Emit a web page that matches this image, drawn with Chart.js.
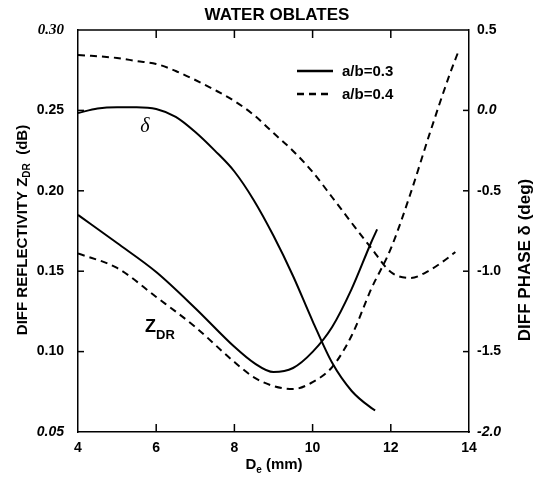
<!DOCTYPE html>
<html>
<head>
<meta charset="utf-8">
<script src="https://cdn.jsdelivr.net/npm/chart.js@4/dist/chart.umd.min.js"></script>
<style>
  html, body { margin: 0; padding: 0; background: #fff; }
  #wrap { width: 533px; height: 477px; }
</style>
</head>
<body>
<div id="wrap"><canvas id="chart" width="533" height="477"></canvas></div>
<script>
// drop sizes (mm) and values
const dZdr03 = [4, 5, 6, 7, 8, 8.5, 9, 9.5, 10, 10.5, 11, 11.5, 11.65]
const zdr03 = [0.185, 0.1675, 0.1495, 0.127, 0.103, 0.093, 0.0873, 0.0898, 0.0998, 0.1153, 0.139, 0.168, 0.176]

const dZdr04 = [4, 5, 6, 7, 8, 8.5, 9, 9.5, 10, 10.5, 11, 11.5, 12, 12.5, 13, 13.5, 13.75]
const zdr04 = [0.161, 0.152, 0.134, 0.1153, 0.0935, 0.084, 0.0786, 0.0767, 0.081, 0.0904, 0.110, 0.139, 0.164, 0.198, 0.236, 0.272, 0.288]

const dDelta03 = [4, 4.5, 5, 5.5, 6, 6.5, 7, 7.5, 8, 8.5, 9, 9.5, 10, 10.5, 11, 11.5, 11.6]
const delta03 = [-0.016, 0.012, 0.02, 0.02, 0.009, -0.04, -0.134, -0.25, -0.38, -0.56, -0.78, -1.03, -1.31, -1.57, -1.745, -1.85, -1.865]

const dDelta04 = [4, 5, 5.5, 6, 6.5, 7, 7.5, 8, 8.5, 9, 9.5, 10, 10.5, 11, 11.5, 12, 12.5, 13, 13.5, 13.65]
const delta04 = [0.345, 0.326, 0.307, 0.289, 0.245, 0.189, 0.127, 0.058, -0.029, -0.141, -0.252, -0.383, -0.54, -0.70, -0.856, -1.005, -1.042, -0.993, -0.91, -0.88]

const xTicks = [4, 6, 8, 10, 12, 14]
const zdrTicks = [0.05, 0.10, 0.15, 0.20, 0.25, 0.30]
const phaseTicks = [-2.0, -1.5, -1.0, -0.5, 0.0, 0.5]

const seriesNames = ['a/b=0.3', 'a/b=0.4']

const FONT = '"Liberation Sans", Arial, Helvetica, sans-serif'
const DASH = [7, 5]

const pts = (xs, ys) => xs.map((x, i) => ({ x: x, y: ys[i] }))

const lineStyle = (dashed) => ({
  borderColor: '#000',
  borderWidth: 2,
  borderDash: dashed ? DASH : [],
  pointRadius: 0,
  fill: false,
  cubicInterpolationMode: 'monotone'
})

// draws text made of pieces, some as subscripts
function drawRich(ctx, parts, x, y, rotate) {
  ctx.save()
  ctx.translate(x, y)
  if (rotate) ctx.rotate(-Math.PI / 2)
  let w = 0
  parts.forEach(p => {
    ctx.font = 'bold ' + p.size + 'px ' + FONT
    w += ctx.measureText(p.t).width
  })
  let cx = -w / 2
  ctx.textBaseline = 'middle'
  ctx.textAlign = 'left'
  parts.forEach(p => {
    ctx.font = 'bold ' + p.size + 'px ' + FONT
    ctx.fillText(p.t, cx, p.dy || 0)
    cx += ctx.measureText(p.t).width
  })
  ctx.restore()
}

const decor = {
  id: 'decor',
  afterDraw(chart) {
    const { ctx, chartArea: a, scales } = chart
    ctx.save()
    ctx.strokeStyle = '#000'
    ctx.fillStyle = '#000'
    ctx.lineWidth = 1.5
    const seg = (x1, y1, x2, y2) => { ctx.beginPath(); ctx.moveTo(x1, y1); ctx.lineTo(x2, y2); ctx.stroke() }

    // top frame line
    seg(a.left, a.top, a.right, a.top)

    // inward tick marks
    xTicks.slice(1, -1).forEach(v => {
      const px = scales.x.getPixelForValue(v)
      seg(px, a.bottom, px, a.bottom - 8)
      seg(px, a.top, px, a.top + 8)
    })
    zdrTicks.slice(1, -1).forEach(v => {
      const py = scales.y.getPixelForValue(v)
      seg(a.left, py, a.left + 6, py)
    })
    phaseTicks.slice(1, -1).forEach(v => {
      const py = scales.y2.getPixelForValue(v)
      seg(a.right, py, a.right - 6, py)
    })

    // title
    ctx.font = 'bold 17px ' + FONT
    ctx.textAlign = 'center'
    ctx.textBaseline = 'middle'
    ctx.fillText('WATER OBLATES', 277, 15)

    // axis titles
    drawRich(ctx, [{ t: 'DIFF REFLECTIVITY Z', size: 15 }, { t: 'DR', size: 10, dy: 4 }, { t: '  (dB)', size: 15 }], 23, 230, true)
    drawRich(ctx, [{ t: 'DIFF PHASE \u03b4 (deg)', size: 17 }], 525, 260, true)
    drawRich(ctx, [{ t: 'D', size: 15 }, { t: 'e', size: 10, dy: 5 }, { t: ' (mm)', size: 15 }], 274, 465, false)

    // curve labels
    ctx.font = 'italic 20px "Liberation Serif", "Times New Roman", serif'
    ctx.textAlign = 'center'
    ctx.fillText('\u03b4', 145, 127)
    drawRich(ctx, [{ t: 'Z', size: 18 }, { t: 'DR', size: 13, dy: 8 }], 160, 327, false)

    // legend
    const ds = chart.data.datasets
    seriesNames.forEach((name, i) => {
      const y = 71 + i * 23
      const style = ds.find(d => d.label === name)
      ctx.save()
      ctx.lineWidth = 2.5
      ctx.setLineDash(style.borderDash)
      seg(297, y, 333, y)
      ctx.restore()
      ctx.font = 'bold 15px ' + FONT
      ctx.textAlign = 'left'
      ctx.fillText(name, 342, y + 1)
    })
    ctx.restore()
  }
}

const tickFont = (ctx) => {
  const v = ctx.tick ? ctx.tick.value : null
  const f = { family: FONT, size: 14, weight: 'bold' }
  if (v !== null && Math.abs(v - 0.30) < 1e-9 && ctx.scale.id === 'y') {
    return { family: '"Liberation Serif", serif', size: 15, weight: 'bold', style: 'italic' }
  }
  if (v !== null && ctx.scale.id === 'y' && Math.abs(v - 0.05) < 1e-9) f.style = 'italic'
  if (v !== null && ctx.scale.id === 'y2' && (v === 0 || v === -2)) f.style = 'italic'
  return f
}

new Chart(document.getElementById('chart'), {
  type: 'line',
  data: {
    datasets: [
      Object.assign({ label: seriesNames[0], data: pts(dZdr03, zdr03), yAxisID: 'y' }, lineStyle(false)),
      Object.assign({ label: seriesNames[1], data: pts(dZdr04, zdr04), yAxisID: 'y' }, lineStyle(true)),
      Object.assign({ label: 'delta ' + seriesNames[0], data: pts(dDelta03, delta03), yAxisID: 'y2' }, lineStyle(false)),
      Object.assign({ label: 'delta ' + seriesNames[1], data: pts(dDelta04, delta04), yAxisID: 'y2' }, lineStyle(true))
    ]
  },
  options: {
    responsive: false,
    animation: false,
    layout: { padding: { top: 30 } },
    plugins: { legend: { display: false }, tooltip: { enabled: false } },
    scales: {
      x: {
        type: 'linear', min: 4, max: 14,
        afterFit: s => { s.height = 45 },
        afterBuildTicks: s => { s.ticks = xTicks.map(v => ({ value: v })) },
        grid: { display: false },
        border: { display: true, color: '#000', width: 1.5 },
        ticks: { color: '#000', padding: 0, font: tickFont, maxRotation: 0, callback: v => String(v) }
      },
      y: {
        type: 'linear', position: 'left', min: 0.05, max: 0.30,
        afterFit: s => { s.width = 78 },
        afterBuildTicks: s => { s.ticks = zdrTicks.map(v => ({ value: v })) },
        grid: { display: false },
        border: { display: true, color: '#000', width: 1.5 },
        ticks: { color: '#000', padding: 6, font: tickFont, callback: v => v.toFixed(2) }
      },
      y2: {
        type: 'linear', position: 'right', min: -2.0, max: 0.5,
        afterFit: s => { s.width = 64 },
        afterBuildTicks: s => { s.ticks = phaseTicks.map(v => ({ value: v })) },
        grid: { display: false },
        border: { display: true, color: '#000', width: 1.5 },
        ticks: { color: '#000', padding: 0, font: tickFont, callback: v => v.toFixed(1) }
      }
    }
  },
  plugins: [decor]
})
</script>
</body>
</html>
